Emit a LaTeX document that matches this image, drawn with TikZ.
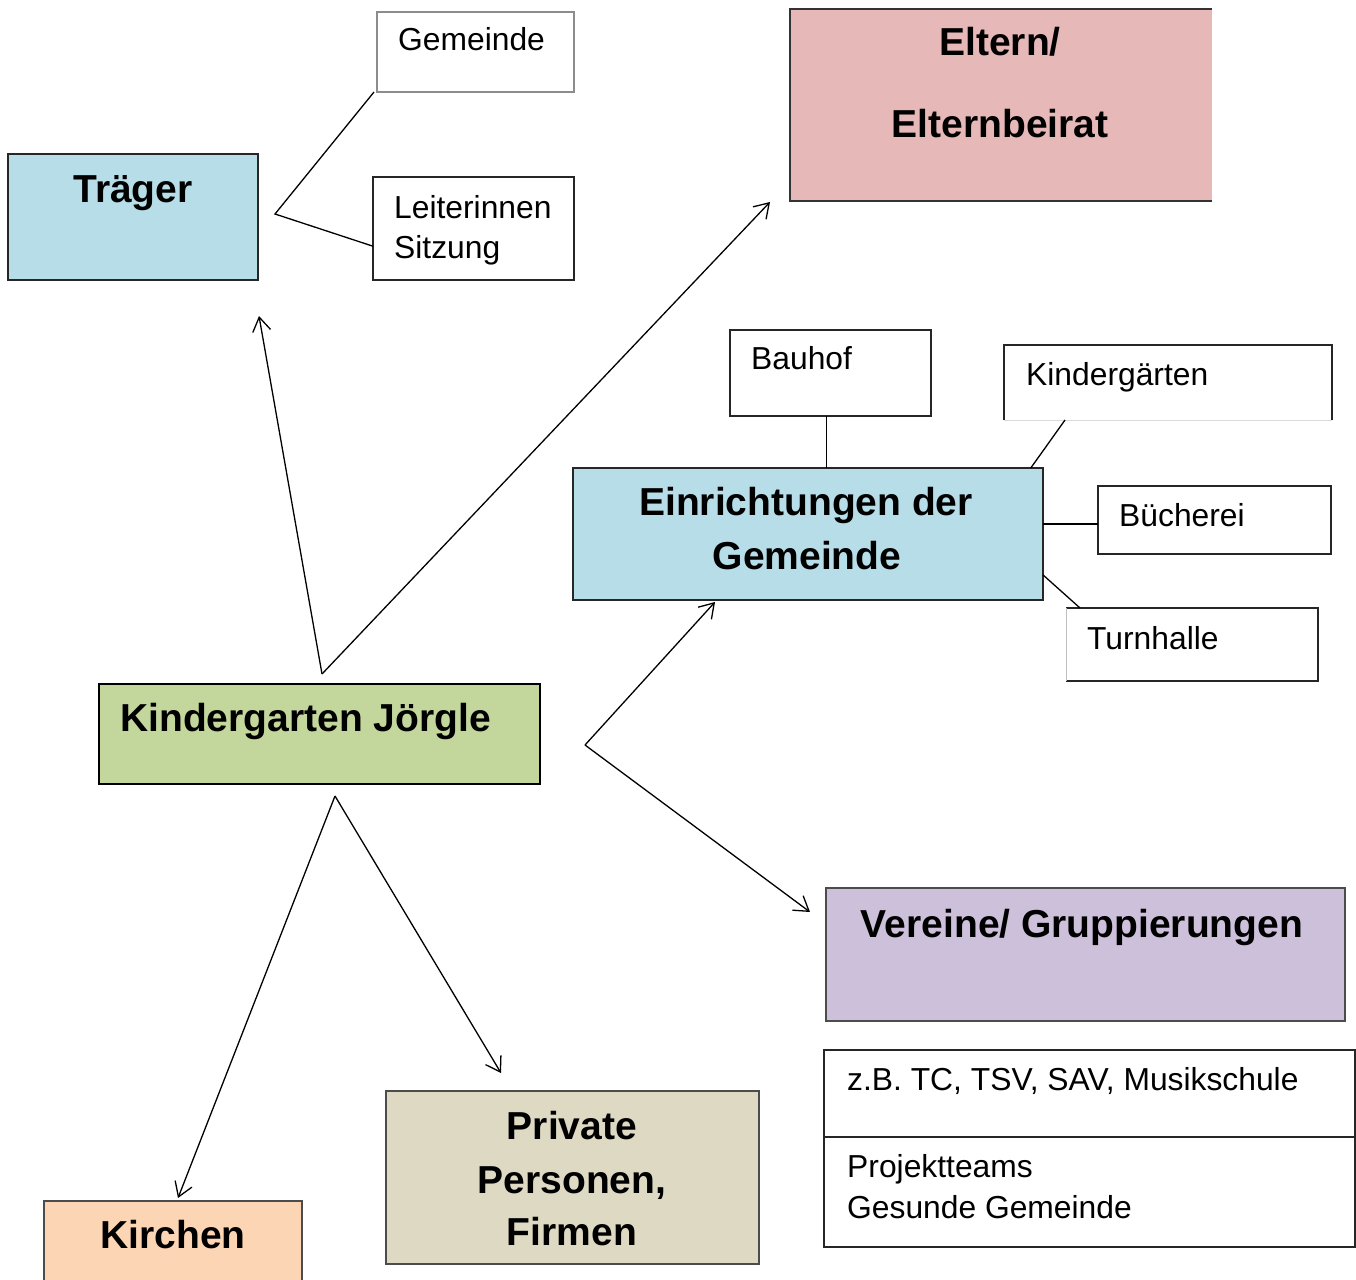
\documentclass[tikz,border=0pt]{standalone}
\usepackage{fontspec}
\setmainfont{Liberation Sans}
\usetikzlibrary{arrows.meta,calc}
\definecolor{cblue}{HTML}{B7DEE8}
\definecolor{cpink}{HTML}{E6B8B7}
\definecolor{cgreen}{HTML}{C3D69B}
\definecolor{cviolet}{HTML}{CCC0DA}
\definecolor{ctan}{HTML}{DDD9C3}
\definecolor{cpeach}{HTML}{FCD5B4}
\begin{document}
\begin{tikzpicture}[x=1pt,y=-1pt,
  box/.style={draw=black!85, line width=1.3pt, inner sep=0pt, outer sep=0pt, anchor=north west},
  bigtxt/.style={font=\fontsize{39}{39}\selectfont\bfseries, inner sep=0pt, anchor=base},
  smalltxt/.style={font=\fontsize{31.8}{31.8}\selectfont, inner sep=0pt, anchor=base west},
  link/.style={line width=1.3pt},
  arr/.style={line width=1.3pt, -{Straight Barb[length=14pt, width=18pt, line width=1.3pt]}}
]
\useasboundingbox (0,0) rectangle (1356,1279);

% ---------- boxes ----------
\node[box, fill=cblue, minimum width=250, minimum height=126] (trg) at (8,154) {};
\node[box, draw=black!45, minimum width=197, minimum height=80] (gem) at (377,12) {};
\node[box, minimum width=201, minimum height=103] (leit) at (373,177) {};
\node[box, draw=none, fill=cpink, minimum width=422, minimum height=192] (elt) at (790,9) {};
\draw[line width=1.3pt, black!80] (elt.north east) -- (elt.north west) -- (elt.south west) -- (elt.south east);
\node[box, minimum width=201, minimum height=86] (bau) at (730,330) {};
\node[box, draw=none, minimum width=328, minimum height=75] (kig) at (1004,345) {};
\draw[line width=1.3pt, black!85] (kig.south west) -- (kig.north west) -- (kig.north east) -- (kig.south east);
\draw[line width=0.8pt, black!15] (kig.south west) -- (kig.south east);
\node[box, fill=cblue, minimum width=470, minimum height=132] (ein) at (573,468) {};
\node[box, minimum width=233, minimum height=68] (buc) at (1098,486) {};
\node[box, draw=none, minimum width=252, minimum height=73] (tur) at (1066,608) {};
\draw[line width=1.3pt, black!85] (tur.north west) -- (tur.north east) -- (tur.south east) -- (tur.south west);
\draw[line width=0.8pt, black!25] (tur.north west) -- (tur.south west);
\node[box, draw=black, line width=1.8pt, fill=cgreen, minimum width=441, minimum height=100] (kgj) at (99,684) {};
\node[box, fill=cviolet, draw=black!70, minimum width=519, minimum height=133] (ver) at (826,888) {};
\node[box, minimum width=531, minimum height=87] (zba) at (824,1050) {};
\node[box, minimum width=531, minimum height=110] (zbb) at (824,1137) {};
\node[box, fill=ctan, draw=black!70, minimum width=373, minimum height=173] (prv) at (386,1091) {};
\node[box, fill=cpeach, draw=black!70, minimum width=258, minimum height=90] (kir) at (44,1201) {};

% ---------- texts ----------
\node[bigtxt] (ttrg) at (133,202) {Träger};
\node[smalltxt] (tgem) at (398,51) {Gemeinde};
\node[smalltxt] (tleit1) at (394,218) {Leiterinnen};
\node[smalltxt] (tleit2) at (394,258) {Sitzung};
\node[bigtxt] (telt1) at (1000,56) {Eltern/};
\node[bigtxt] (telt2) at (1000,137) {Elternbeirat};
\node[smalltxt] (tbau) at (751,369) {Bauhof};
\node[smalltxt] (tkig) at (1026,385) {Kindergärten};
\node[bigtxt] (tein1) at (806,515) {Einrichtungen der};
\node[bigtxt] (tein2) at (807,569) {Gemeinde};
\node[smalltxt] (tbuc) at (1119,526) {Bücherei};
\node[smalltxt] (ttur) at (1087,649) {Turnhalle};
\node[bigtxt, anchor=base west] (tkgj) at (120,731) {Kindergarten Jörgle};
\node[bigtxt] (tver) at (1082,937) {Vereine/ Gruppierungen};
\node[smalltxt] (tzba) at (847,1090) {z.B. TC, TSV, SAV, Musikschule};
\node[smalltxt] (tzbb1) at (847,1177) {Projektteams};
\node[smalltxt] (tzbb2) at (847,1218) {Gesunde Gemeinde};
\node[bigtxt] (tprv1) at (572,1139) {Private};
\node[bigtxt] (tprv2) at (572,1193) {Personen,};
\node[bigtxt] (tprv3) at (572,1245) {Firmen};
\node[bigtxt] (tkir) at (173,1248) {Kirchen};

% ---------- connector points ----------
\coordinate (tj) at (275,214);
\coordinate (kgtop) at (322,674);
\coordinate (trgtip) at (259,316);
\coordinate (elttip) at (770,202);
\coordinate (kv) at (585,745);
\coordinate (eintip) at (715,602);
\coordinate (vertip) at (810,912);
\coordinate (kb) at (335,796);
\coordinate (kirtip) at (178,1198);
\coordinate (prvtip) at (501,1073);
\coordinate (bj) at ($(ein.north west)!0.539!(ein.north east)$);
\coordinate (kj1) at ($(kig.south west)!0.186!(kig.south east)$);
\coordinate (kj2) at ($(ein.north west)!0.974!(ein.north east)$);
\coordinate (tj1) at ($(ein.north east)!0.81!(ein.south east)$);
\coordinate (tj2) at ($(tur.north west)+(14,0)$);

% ---------- plain links ----------
\draw[link] ($(gem.south west)+(-3,0)$) -- (tj) -- (leit.190);
\draw[link] (bj) -- (bj |- bau.south);
\draw[link] (kj1) -- (kj2);
\draw[link] (buc.west |- 0,524) -- (ein.east |- 0,524);
\draw[link] (tj1) -- (tj2);

% ---------- arrows ----------
\draw[arr] (kgtop) -- (trgtip);
\draw[arr] (kgtop) -- (elttip);
\draw[arr] (kv) -- (eintip);
\draw[arr] (kv) -- (vertip);
\draw[arr] (kb) -- (kirtip);
\draw[arr] (kb) -- (prvtip);
\end{tikzpicture}
\end{document}
